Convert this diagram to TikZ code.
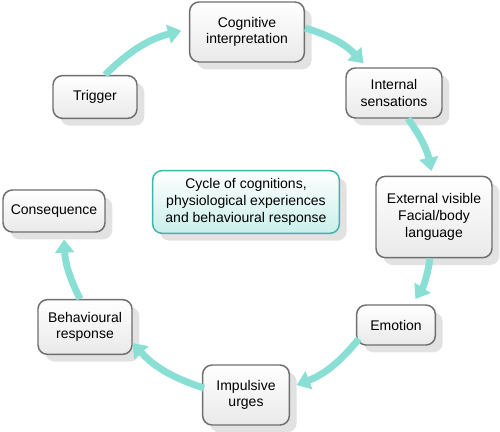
\documentclass[tikz,border=0pt]{standalone}
\usepackage{fontspec}
\setmainfont{Liberation Sans}
\usetikzlibrary{shadows,arrows.meta,calc}
\definecolor{arrowteal}{HTML}{8ADFD4}
\definecolor{boxborder}{HTML}{6E6E6E}
\definecolor{centborder}{HTML}{3DB5A9}
\definecolor{centfill}{HTML}{C9EFEA}
\begin{document}
\begin{tikzpicture}[x=0.75pt,y=0.75pt,
  box/.style={draw=boxborder, line width=1.1pt, rounded corners=7pt,
    top color=white, bottom color=gray!17, inner sep=0pt, align=center,
    font=\fontsize{10.5}{12.5}\selectfont,
    drop shadow={shadow xshift=5.5pt, shadow yshift=-5.5pt, fill=gray!25, opacity=0.9}},
  centbox/.style={box, draw=centborder, bottom color=centfill},
  cyc/.style={draw=arrowteal, line width=5.2pt, -{Triangle[width=14pt,length=10pt]}, shorten >=2pt}
]
\useasboundingbox (0,0) rectangle (500,-432);
\node[box, minimum width=86pt, minimum height=45pt] (cog) at (247,-32) {Cognitive\\interpretation};
\node[box, minimum width=72pt, minimum height=37.5pt] (int) at (394,-93) {Internal\\sensations};
\node[box, minimum width=63pt, minimum height=32pt] (trig) at (95,-97) {Trigger};
\node[box, minimum width=87pt, minimum height=61pt] (ext) at (434,-217) {External visible\\Facial/body\\language};
\node[box, minimum width=76.5pt, minimum height=31.5pt] (cons) at (54,-211) {Consequence};
\node[centbox, minimum width=140pt, minimum height=47pt] (cent) at (246,-202) {Cycle of cognitions,\\physiological experiences\\and behavioural response};
\node[box, minimum width=70.5pt, minimum height=41pt] (beh) at (85,-327) {Behavioural\\response};
\node[box, minimum width=59pt, minimum height=30pt] (emo) at (396,-325) {Emotion};
\node[box, minimum width=65pt, minimum height=45pt] (imp) at (246,-395) {Impulsive\\urges};

\draw[cyc] ($(trig.north)+(10,0)$) to[bend left=15] ($(cog.west)+(-5,2)$);
\draw[cyc] ($(cog.east)+(0,4)$) to[bend left=15] ($(int.north west)+(20,2)$);
\draw[cyc] ($(int.south)+(14,0)$) to[bend left=12] ($(ext.north)+(-2,2)$);
\draw[cyc] ($(ext.south)+(-4,0)$) to[bend left=12] ($(emo.north)+(18,3)$);
\draw[cyc] ($(emo.south west)+(3,7)$) to[bend left=15] ($(imp.east)+(4,9)$);
\draw[cyc] ($(imp.west)+(2,7)$) to[bend left=15] ($(beh.east)+(-2,-14)$);
\draw[cyc] ($(beh.north)+(-5,0)$) to[bend left=12] ($(cons.south)+(10,-4)$);
\end{tikzpicture}
\end{document}
